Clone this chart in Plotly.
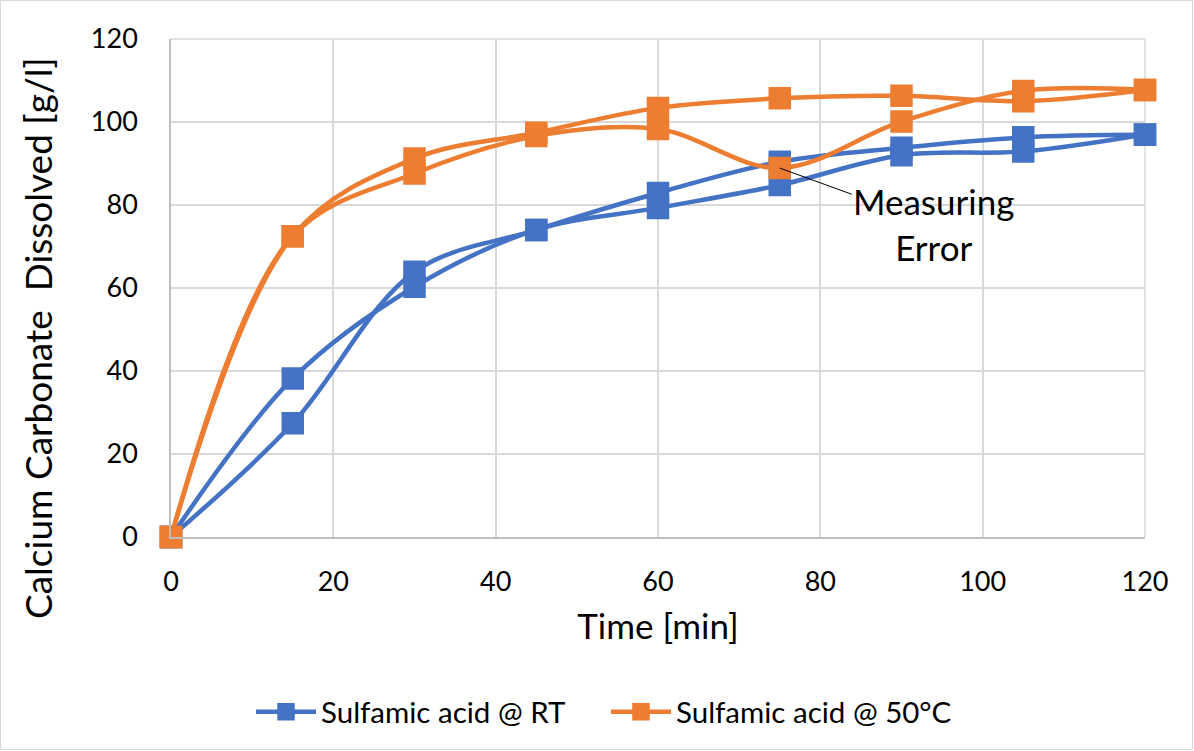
import plotly.graph_objects as go

time_min = [0, 15, 30, 45, 60, 75, 90, 105, 120]
rt_run1 = [0, 27.4, 63.9, 74.0, 82.9, 90.4, 93.8, 96.3, 96.9]
rt_run2 = [0, 38.2, 60.3, 74.0, 79.3, 84.8, 92.0, 92.9, 97.0]
hot_run1 = [0, 72.5, 91.2, 97.4, 103.4, 105.7, 106.3, 105.0, 107.7]
hot_run2 = [0, 72.5, 87.6, 96.6, 98.3, 88.9, 100.1, 107.5, 107.7]

x_ticks = [0, 20, 40, 60, 80, 100, 120]
y_ticks = [0, 20, 40, 60, 80, 100, 120]

BLUE = "#4472c4"
ORANGE = "#ed7d31"
FONT = "Lato"

fig = go.Figure()

def add(y, color, name, show):
    fig.add_trace(go.Scatter(
        x=time_min, y=y, mode="lines+markers", name=name, showlegend=show,
        cliponaxis=False,
        line=dict(color=color, width=4.5, shape="spline", smoothing=1.0),
        marker=dict(symbol="square", size=21, color=color,
                    line=dict(color=color, width=1.5)),
    ))

add(rt_run1, BLUE, "Sulfamic acid @ RT", True)
add(rt_run2, BLUE, "Sulfamic acid @ RT", False)
add(hot_run1, ORANGE, "Sulfamic acid @ 50°C", True)
add(hot_run2, ORANGE, "Sulfamic acid @ 50°C", False)

fig.add_annotation(
    x=75, y=hot_run2[5], xref="x", yref="y",
    text="Measuring<br>Error", showarrow=True, arrowhead=0, arrowwidth=1,
    arrowcolor="black", ax=154, ay=56,
    font=dict(family=FONT, size=35, color="black"), align="center",
)

L, R, T, B = 171, 49, 39, 214
W, H = 1194, 751
pw, ph = W - L - R, H - T - B

# y-axis title (placed like the original, centred on the full chart height)
fig.add_annotation(
    text="Calcium Carbonate  Dissolved [g/l]", textangle=-90, showarrow=False,
    xref="paper", yref="paper", x=(37 - L) / pw, y=(ph + T - 338) / ph,
    xanchor="center", yanchor="middle",
    font=dict(family=FONT, size=37, color="black"),
)

fig.add_shape(type="rect", xref="paper", yref="paper",
              x0=(0.5 - L) / pw, x1=(W - 1.5 - L) / pw,
              y0=(ph + T - (H - 1.5)) / ph, y1=(ph + T - 0.5) / ph,
              line=dict(color="#d9d9d9", width=1), layer="below")

fig.update_layout(
    width=W, height=H,
    margin=dict(l=L, r=R, t=T, b=B, autoexpand=False),
    paper_bgcolor="white", plot_bgcolor="white",
    font=dict(family=FONT, size=22, color="black"),
    legend=dict(orientation="h", x=(606 - L) / pw, xanchor="center", y=(ph + T - 712) / ph,
                yanchor="middle", font=dict(size=29.5, family=FONT), itemwidth=60,
                entrywidth=280),
    xaxis=dict(range=[0, 120], tickvals=x_ticks, showgrid=True, gridcolor="#d9d9d9",
               gridwidth=1.5, zeroline=False, showline=True, linecolor="#bfbfbf",
               linewidth=1.5, ticks="", tickfont=dict(size=27), ticklabelstandoff=20,
               title=dict(text="Time [min]", font=dict(size=35), standoff=18)),
    yaxis=dict(range=[0, 120], tickvals=y_ticks, showgrid=True, gridcolor="#d9d9d9",
               gridwidth=1.5, zeroline=False, showline=True, linecolor="#bfbfbf",
               linewidth=1.5, ticks="", tickfont=dict(size=27), ticklabelstandoff=26),
)
fig.add_shape(type="line", xref="paper", yref="paper", x0=1, x1=1, y0=0, y1=1,
              line=dict(color="#d9d9d9", width=1.5), layer="below")
fig.add_shape(type="line", xref="paper", yref="paper", x0=0, x1=1, y0=1, y1=1,
              line=dict(color="#d9d9d9", width=1.5), layer="below")

fig.write_html("out.html")
